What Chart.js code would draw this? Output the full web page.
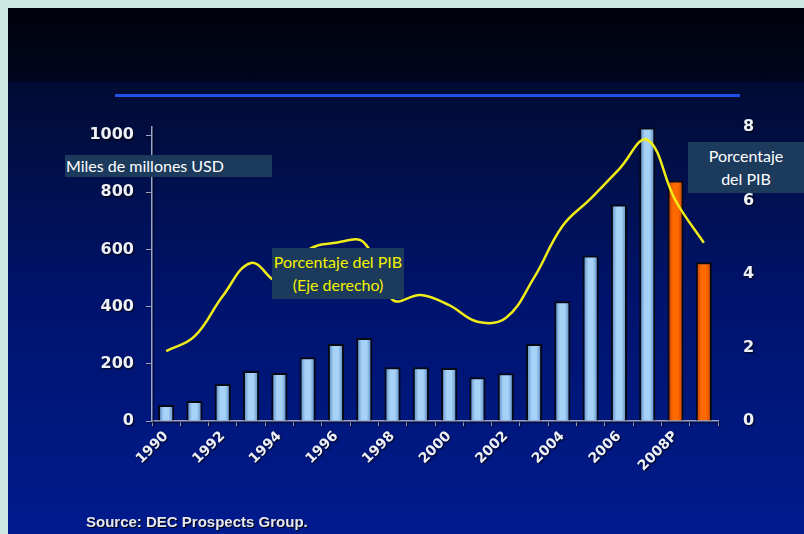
<!DOCTYPE html>
<html>
<head>
<meta charset="utf-8">
<script src="https://cdn.jsdelivr.net/npm/chart.js@4.4.0/dist/chart.umd.min.js"></script>
<style>
  html, body { margin: 0; padding: 0; }
  body {
    width: 804px; height: 534px; position: relative; overflow: hidden;
    background: #cde8e0; font-family: Lato, "Open Sans", sans-serif;
  }
  #panel {
    position: absolute; left: 8px; top: 8px; right: 0; bottom: 0;
    background: linear-gradient(#00010a 0px, #00061f 74px, #010c33 74px, #00136c 55%, #001b8e 100%);
  }
  #rule { position: absolute; left: 115px; top: 94px; width: 625px; height: 3px; background: #1f50e8; }
  canvas { position: absolute; left: 0; top: 0; }
  .box { position: absolute; background: #1b3a5c; font-size: 16px; }
  #unitsBox { left: 65px; top: 155px; width: 207px; height: 22px; line-height: 22px; color: #fff; padding-left: 1px; box-sizing: border-box; }
  #pibNote { left: 272px; top: 248px; width: 132px; height: 51px; line-height: 23px; color: #f2f200; text-align: center; padding-top: 2px; box-sizing: border-box; }
  #pibAxis { left: 688px; top: 142px; width: 116px; height: 51px; line-height: 23px; color: #fff; text-align: center; padding-top: 2px; box-sizing: border-box; }
  #source {
    position: absolute; left: 86px; top: 513px; font: bold 15px "Liberation Sans", sans-serif;
    color: #e8e8f0; text-shadow: 1px 1px 1px #000;
  }
</style>
</head>
<body>
<div id="panel"></div>
<div id="rule"></div>
<canvas id="flows" width="804" height="534"></canvas>
<div class="box" id="unitsBox">Miles de millones USD</div>
<div class="box" id="pibNote">Porcentaje del PIB<br>(Eje derecho)</div>
<div class="box" id="pibAxis">Porcentaje<br>del PIB</div>
<div id="source">Source: DEC Prospects Group.</div>

<script>
// years on the category axis, P = projection
const years = ['1990', '1991', '1992', '1993', '1994', '1995', '1996', '1997', '1998', '1999',
  '2000', '2001', '2002', '2003', '2004', '2005', '2006', '2007', '2008P', '2009P'];
// only these get a label under the axis
const yearTicks = ['1990', '1992', '1994', '1996', '1998', '2000', '2002', '2004', '2006', '2008P'];

// flows, billions of USD (bars, left axis)
const flowsUsd = [56, 70, 129, 175, 168, 223, 269, 290, 188, 188,
  185, 153, 167, 269, 419, 579, 757, 1026, 841, 555];
// flows as share of GDP (line, right axis)
const flowsPctGdp = [1.9, 2.3, 3.4, 4.3, 3.8, 4.65, 4.85, 4.85, 3.3, 3.43,
  3.15, 2.7, 2.8, 3.9, 5.3, 6.05, 6.85, 7.65, 6.0, 4.85];

const leftTicks = [0, 200, 400, 600, 800, 1000];

const axisColor = '#9aa3c8';
const labelColor = '#eef0f8';

// horizontal shading so each bar looks like a cylinder
function barFill(c) {
  const chart = c.chart;
  const projected = years[c.dataIndex].endsWith('P');
  const edge = projected ? '#b83c00' : '#4f7fb4';
  const mid = projected ? '#ff6a00' : '#a6d2f8';
  if (!chart.chartArea) return mid;
  const x = chart.scales.x.getPixelForValue(c.dataIndex);
  const g = chart.ctx.createLinearGradient(x - 8, 0, x + 8, 0);
  g.addColorStop(0, edge);
  g.addColorStop(0.35, mid);
  g.addColorStop(0.65, mid);
  g.addColorStop(1, edge);
  return g;
}

// dark drop shadow behind the axis text, switched off before the marks
const labelShadow = {
  id: 'labelShadow',
  beforeDraw(chart) {
    const ctx = chart.ctx;
    ctx.shadowColor = 'rgba(0,0,0,0.85)';
    ctx.shadowOffsetX = 1;
    ctx.shadowOffsetY = 1;
    ctx.shadowBlur = 2;
  },
  beforeDatasetsDraw(chart) {
    const ctx = chart.ctx;
    ctx.shadowColor = 'rgba(0,0,0,0)';
    ctx.shadowBlur = 0;
    ctx.shadowOffsetX = 0;
    ctx.shadowOffsetY = 0;
  }
};

new Chart(document.getElementById('flows'), {
  data: {
    labels: years,
    datasets: [{
      type: 'line',
      data: flowsPctGdp,
      yAxisID: 'y1',
      borderColor: '#f0ec18',
      borderWidth: 2.5,
      tension: 0.4,
      pointRadius: 0,
      order: 0
    }, {
      type: 'bar',
      data: flowsUsd,
      yAxisID: 'y',
      backgroundColor: barFill,
      borderColor: '#050914',
      borderWidth: 2,
      barPercentage: 0.57,
      categoryPercentage: 1,
      order: 1
    }]
  },
  options: {
    responsive: false,
    animation: false,
    layout: { padding: { top: 127, left: 0, right: 0, bottom: 0 } },
    plugins: { legend: { display: false }, tooltip: { enabled: false } },
    scales: {
      x: {
        grid: { offset: true, drawOnChartArea: false, color: axisColor, tickLength: 5 },
        border: { color: axisColor, width: 1.5 },
        ticks: {
          autoSkip: false, minRotation: 45, maxRotation: 45, padding: 2,
          color: labelColor, font: { family: 'DejaVu Sans', weight: 'bold', size: 14 },
          callback: (v, i) => yearTicks.includes(years[i]) ? years[i] : ''
        },
        afterFit: s => { s.height = 113; }
      },
      y: {
        position: 'left', min: 0, max: 1028,
        afterBuildTicks: s => { s.ticks = leftTicks.map(v => ({ value: v })); },
        grid: { drawOnChartArea: false, color: axisColor, tickLength: 6 },
        border: { color: axisColor, width: 1.5 },
        ticks: {
          padding: 12, color: labelColor, font: { family: 'DejaVu Sans', weight: 'bold', size: 16 },
          callback: v => String(v)
        },
        afterFit: s => { s.width = 152; }
      },
      y1: {
        position: 'right', min: 0, max: 8,
        grid: { display: false },
        border: { display: false },
        ticks: { stepSize: 2, padding: 17, color: labelColor, font: { family: 'DejaVu Sans', weight: 'bold', size: 16 } },
        afterFit: s => { s.width = 86; }
      }
    }
  },
  plugins: [labelShadow]
});
</script>
</body>
</html>
